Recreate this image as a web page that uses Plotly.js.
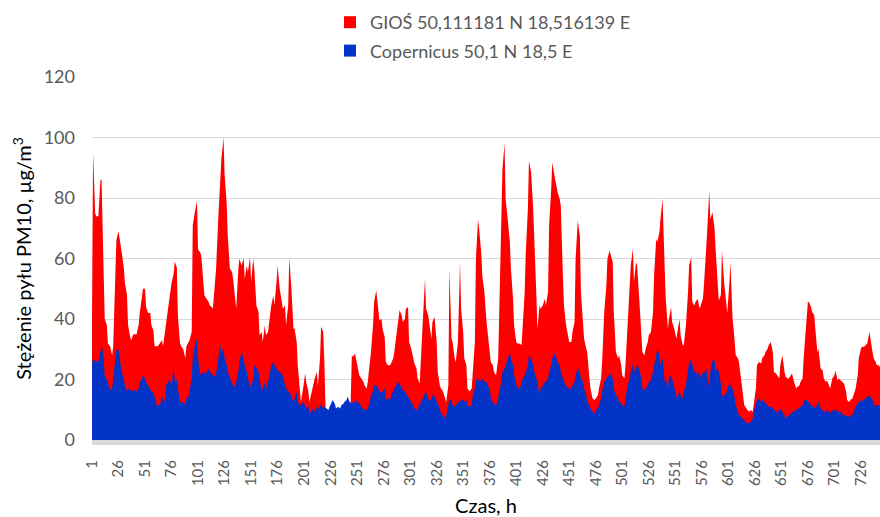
<!DOCTYPE html>
<html><head><meta charset="utf-8">
<script src="https://cdn.plot.ly/plotly-3.0.1.min.js"></script>
<style>html,body{margin:0;padding:0;background:#fff}#chart{width:880px;height:517px}</style>
</head><body><div id="chart"></div>
<script>
const seriesNames = ["GIOŚ 50,111181 N 18,516139 E", "Copernicus 50,1 N 18,5 E"];

const hours = [
1,2,4,5,7,9,10,12,13,15,16,18,20,21,23,24,26,27,29,31,32,34,35,37,38,40,41,43,45,46,48,49,51,52,54,56,57,59,60,62,63,65,67,68,70,71,73,74,76,78,79,81,82,84,85,87,
89,90,92,93,95,96,98,100,101,103,104,106,107,109,111,112,114,115,117,118,120,122,123,125,126,128,129,131,133,134,136,137,139,140,142,144,145,147,148,150,151,153,154,156,158,159,161,162,164,165,167,169,170,172,173,175,176,178,180,181,
183,184,186,187,189,191,192,194,195,197,198,200,202,203,205,206,208,209,211,213,214,216,217,219,220,222,224,225,227,228,230,231,233,235,236,238,239,241,242,244,246,247,249,250,252,253,255,257,258,260,261,263,264,266,267,269,271,272,274,275,
277,278,280,282,283,285,286,288,289,291,293,294,296,297,299,300,302,304,305,307,308,310,311,313,315,316,318,319,321,322,324,326,327,329,330,332,333,335,337,338,340,341,343,344,346,348,349,351,352,354,355,357,359,360,362,363,365,366,368,369,
371,373,374,376,377,379,380,382,384,385,387,388,390,391,393,395,396,398,399,401,402,404,406,407,409,410,412,413,415,417,418,420,421,423,424,426,428,429,431,432,434,435,437,439,440,442,443,445,446,448,450,451,453,454,456,457,459,461,462,464,
465,467,468,470,471,473,475,476,478,479,481,482,484,486,487,489,490,492,493,495,497,498,500,501,503,504,506,508,509,511,512,514,515,517,519,520,522,523,525,526,528,530,531,533,534,536,537,539,541,542,544,545,547,548,550,552,553,555,556,558,
559,561,563,564,566,567,569,570,572,574,575,577,578,580,581,583,584,586,588,589,591,592,594,595,597,599,600,602,603,605,606,608,610,611,613,614,616,617,619,621,622,624,625,627,628,630,632,633,635,636,638,639,641,643,644,646,647,649,650,652,
654,655,657,658,660,661,663,665,666,668,669,671,672,674,676,677,679,680,682,683,685,686,688,690,691,693,694,696,697,699,701,702,704,705,707,708,710,712,713,715,716,718,719,721,723,724,726,727,729,730,732,734,735,737,738,740,741,743,744
];

const gios = [
40,95,75,74,74,86,86,60,40,38,32,31,28,31,60,66,69,66,62,57,52,48,38,34,33,35,35,35,38,42,47,50,50,44,42,42,38,36,31,31,31,32,33,31,36,40,44,46,52,55,59,57,41,32,31,30,
27,31,32.4,33,35.7,70.9,75.3,79,63,62,61,50,47.8,46.7,45.6,44.5,44,43.4,53.3,56.6,73,89.6,92.9,100,88,78,67.6,56.6,55.5,53.3,46.7,43.4,56.6,59.9,57.7,60.1,53.3,57.7,55.5,60.4,52.2,59.9,56.6,44.5,42.3,34.6,35.7,32.4,37.9,34.6,35.7,42.3,44.5,47.8,44.5,52.2,57.7,50,45.6,43.4,
44.5,37.9,44.5,60.4,50,36.8,36.8,32.4,24.7,17,12.6,17,22,19.2,16,12.6,16,18,20.3,22.5,18,27,37.4,35.7,27,0,0,0,0,0,0,0,0,0,0,0,0,0,0,0,28,27.5,28.6,27,23.6,21.4,20.3,19.2,18,17,19.2,24.7,29,37.9,45.6,49.5,42.3,39.6,40,36.8,
34,25.8,24.7,24.7,25.3,27,29,34.6,39,42.9,41.2,39,40,43.4,44,32.4,30.2,27,25.3,23.6,20.3,18.7,24.7,40,53.3,43.4,41.2,37.9,33.5,39,40.7,32.4,22.5,18,17,16,14.8,12.6,18,56.6,33.5,32.4,27,25.8,32.4,58.8,43.4,35.7,27,24.7,17,16,17,22.5,32.4,60,73,69.8,62,54.4,
48.9,39,35.7,31.3,25.8,24.7,22.5,21.4,27,42.3,70.9,89.6,98,79.7,73,65.4,56.6,46.7,37.9,32.4,31.9,31.9,31.3,37.9,48.9,62,76.4,92.3,88.5,76.4,64.3,47.8,36.8,44.5,43.4,44.5,46.7,44.5,48.9,70.9,83,91.8,87.4,83,81.9,79.7,77.5,54.4,44.5,37.9,33.5,32.4,32.4,35.7,39,60,72.5,67.6,48.9,35.7,
33.5,30.2,29,20.3,17,13.7,13.2,13.7,14.8,17,20.3,25.8,42.3,51.1,59.9,62.6,61.5,58.8,42.3,29,27,28,24.7,21.4,20.3,24.7,37.9,51.1,57.7,63.2,52.2,58.8,57.7,46.7,33.5,29,28,30.2,32.4,34.6,35.7,42.3,54.4,66.5,65.4,68.7,73,79.7,56.6,46.7,36.8,40,44,39,36.8,33.5,35.7,40,34.6,31.3,
31.3,37.9,48.9,57.7,60.4,45.6,44.5,45.6,46.7,43.4,44.5,46.7,51.1,61,68.7,82.4,73,75.3,70,63,53,46,48,62.6,52.2,44,42,52,58.8,40,36.8,28,27,25.8,20.3,17,11.5,11,9.9,9.3,9.9,9.3,11.5,17,24.7,25.8,25.3,27,28,29,30.2,31.3,32.4,29,22.5,22,21.4,20.3,24.7,28,
22.5,20.9,20.3,20.3,21.4,22,19.2,17,17.5,18,19.2,20.3,27,35.7,45.6,45.6,44,42.3,41.2,36.8,29,30.2,23.6,23,20.3,19.2,19.7,18,17,20.3,21.4,23,19.7,20.3,19.7,19.2,18.7,16,13.2,12.6,13.2,13.7,14.8,17,21.4,27,30.2,30.8,30.8,31.3,31.9,35.7,33,29,27,25.8,24.7,24.7,24
];

const copernicus = [
25,27,26,26,26,29,32,27,21,20,19,16.5,17,20,28,29.7,30,27,22.5,20.3,18,16,17,16.5,16.5,16,16.5,16,17,19.2,20,21.4,20.3,19.2,18,17,16,15.5,14.3,11.5,11.5,11.5,14.3,13.7,12.6,18,19.2,20,18,24.7,19.2,20,17,12.6,12.6,12.6,
11.5,13.7,14.3,16,20.3,27,31.3,33.5,27,21.4,22,22.5,22,22.5,23.6,22.5,22,21.4,20.9,22,27,31.3,29,30.2,27,24.7,22.5,20.9,19.2,18,17.6,19.2,22.5,25.8,29,27,24.7,22.5,20.3,18,17.6,20.3,24.7,24,22.5,20.3,16,17,19.2,17,19.2,22.5,24.7,25.8,24.7,23.6,23,22.5,22,20.9,
18,17,16,16,14.3,12.6,13.7,16,12.6,11.5,11.5,12.6,11.5,10.4,11.5,8.8,9.3,10.4,9.3,11,9.9,11.5,11.5,10.4,11,10.4,9.9,11,12.6,13.2,12,10.4,11,10.4,11.5,12,12.6,13.2,14.3,12.6,12,12.6,12.6,13.2,12,12.6,11,10.4,9.9,9.9,10.4,12.6,14.8,16,18,18,17,16,15.5,16,
17,13.2,13.7,13.2,14.8,16,17,18,19.2,18.7,17,16.5,16,15.5,14.3,13.7,12.6,11.5,10.4,9.9,10.4,11.5,12.6,13.7,15.4,16,13.7,12.6,13.7,14.8,14.3,12.6,11.5,10.4,8.8,8.2,7.1,8.2,11.5,13.7,13.2,11.5,11,11.5,12.6,13.2,12.6,13.7,12.6,13.2,11.5,11,11.5,14.8,17,19.8,20.3,19.2,19.8,20.3,
19.2,19.2,18,17,13.7,12.6,12,11.5,13.7,16,19.2,22.5,23.6,24.7,27,29,27,24.7,21.4,18,17,17,18.7,20.3,21.4,22.5,24.7,28,27,24.7,22.5,20.3,19.2,14.8,17,18,19.2,19.2,20.3,22.5,24.7,27,28.6,27,25.8,24.7,22.5,20.3,19.2,18,17,17,17,18,19.2,21.4,23.6,22.5,20.3,19.2,
17,14.8,12.6,11.5,10.4,9.3,8.8,9.9,10.4,11.5,13.7,16,19.2,20.3,20.9,21.4,22,20.3,17,14.8,13.7,12.6,12.6,11.5,11,13.7,18,20.3,22.5,25.3,22.5,23.6,24.7,23.6,20.3,17,16.5,17,18,19.2,19.8,22.5,24.7,29,30.2,28,24.7,27,19.2,20.3,17,20.3,21.4,20.3,17,14.8,13.2,17,14.8,13.7,
16,18,22.5,25.8,26.4,24.7,22.5,23,21.4,22.5,20.3,22.5,22,23.6,21.4,17,22.5,26.4,26,23,23.6,22.5,18.5,14.3,14.8,15.5,16.5,19,18,17,16,11.5,9.3,8.2,7.7,7.1,6.6,6,5.5,5.5,6,7.1,9.3,11.5,13.2,13.7,12.6,13.2,12.6,12,11.5,11,11,10.4,9.9,9.3,9.3,9.3,10.4,9.3,
8.2,7.1,7.7,8.2,8.8,9.3,9.3,9.9,10.4,10.4,11,11.5,12.6,13.7,12.6,12.6,11.5,11.5,10.4,11,11.5,12.6,10.4,9.9,9.3,9.3,9.9,9.3,8.8,9.9,9.3,10.4,9.3,9.3,9.3,8.8,8.2,8.2,7.7,7.7,8.2,8.2,9.3,11,12,12.6,13.2,12.6,13.7,13.2,14.3,14.8,14.3,13.2,11.5,11.5,11.5,11.5,11.5
];

const tickHours = [1,26,51,76,101,126,151,176,201,226,251,276,301,326,351,376,401,426,451,476,501,526,551,576,601,626,651,676,701,726];
const tickLabels = ["1","26","51","76","101","126","151","176","201","226","251","276","301","326","351","376","401","426","451","476","501","526","551","576","601","626","651","676","701","726"];
const yTicks = [0,20,40,60,80,100,120];

const colors = ["#ff0000", "#0433c8"];
const FONT = "Lato, 'Open Sans', sans-serif";

const traces = [
  {x: hours, y: gios, type: "scatter", mode: "lines", fill: "tozeroy",
   fillcolor: colors[0], line: {width: 0, color: colors[0]}, showlegend: false, hoverinfo: "skip"},
  {x: hours, y: copernicus, type: "scatter", mode: "lines", fill: "tozeroy",
   fillcolor: colors[1], line: {width: 0, color: colors[1]}, showlegend: false, hoverinfo: "skip"},
  {x: [null], y: [null], type: "scatter", mode: "markers", name: seriesNames[0], legendgroup: "a",
   marker: {symbol: "square", size: 12, color: colors[0]}},
  {x: [null], y: [null], type: "scatter", mode: "markers", name: seriesNames[1], legendgroup: "b",
   marker: {symbol: "square", size: 12, color: colors[1]}}
];

const layout = {
  width: 880, height: 517,
  margin: {l: 92, r: 0, t: 77, b: 77, pad: 0, autoexpand: false},
  paper_bgcolor: "#ffffff", plot_bgcolor: "#ffffff",
  font: {family: FONT, color: "#595959", size: 16},
  showlegend: true,
  legend: {
    xref: "paper", yref: "paper", x: (330 - 92) / 788, y: (440 - 4) / 363,
    xanchor: "left", yanchor: "top", orientation: "v",
    font: {family: FONT, size: 18, color: "#595959"},
    itemwidth: 30, tracegroupgap: 2, bgcolor: "rgba(0,0,0,0)"
  },
  xaxis: {
    type: "linear", range: [1, 744], tickmode: "array",
    tickvals: tickHours, ticktext: tickLabels, tickangle: -90,
    tickfont: {family: FONT, size: 15, color: "#595959"},
    showgrid: false, zeroline: false, ticks: "",
    showline: true, linecolor: "#d9d9d9", linewidth: 5,
    ticklabelstandoff: 9,
    title: {text: "Czas, h", font: {family: FONT, size: 20, color: "#000000"}, standoff: 20}
  },
  yaxis: {
    range: [0, 120], tickmode: "array", tickvals: yTicks,
    tickfont: {family: FONT, size: 18, color: "#595959"},
    showgrid: true, gridcolor: "#d9d9d9", gridwidth: 1,
    zeroline: false, showline: false, ticks: "",
    ticklabelstandoff: 16,
    title: {text: "Stężenie pyłu PM10, µg/m<sup>3</sup>", font: {family: FONT, size: 20, color: "#000000"}, standoff: 6}
  }
};

Plotly.newPlot("chart", traces, layout, {displayModeBar: false, staticPlot: true});
</script>
</body></html>
